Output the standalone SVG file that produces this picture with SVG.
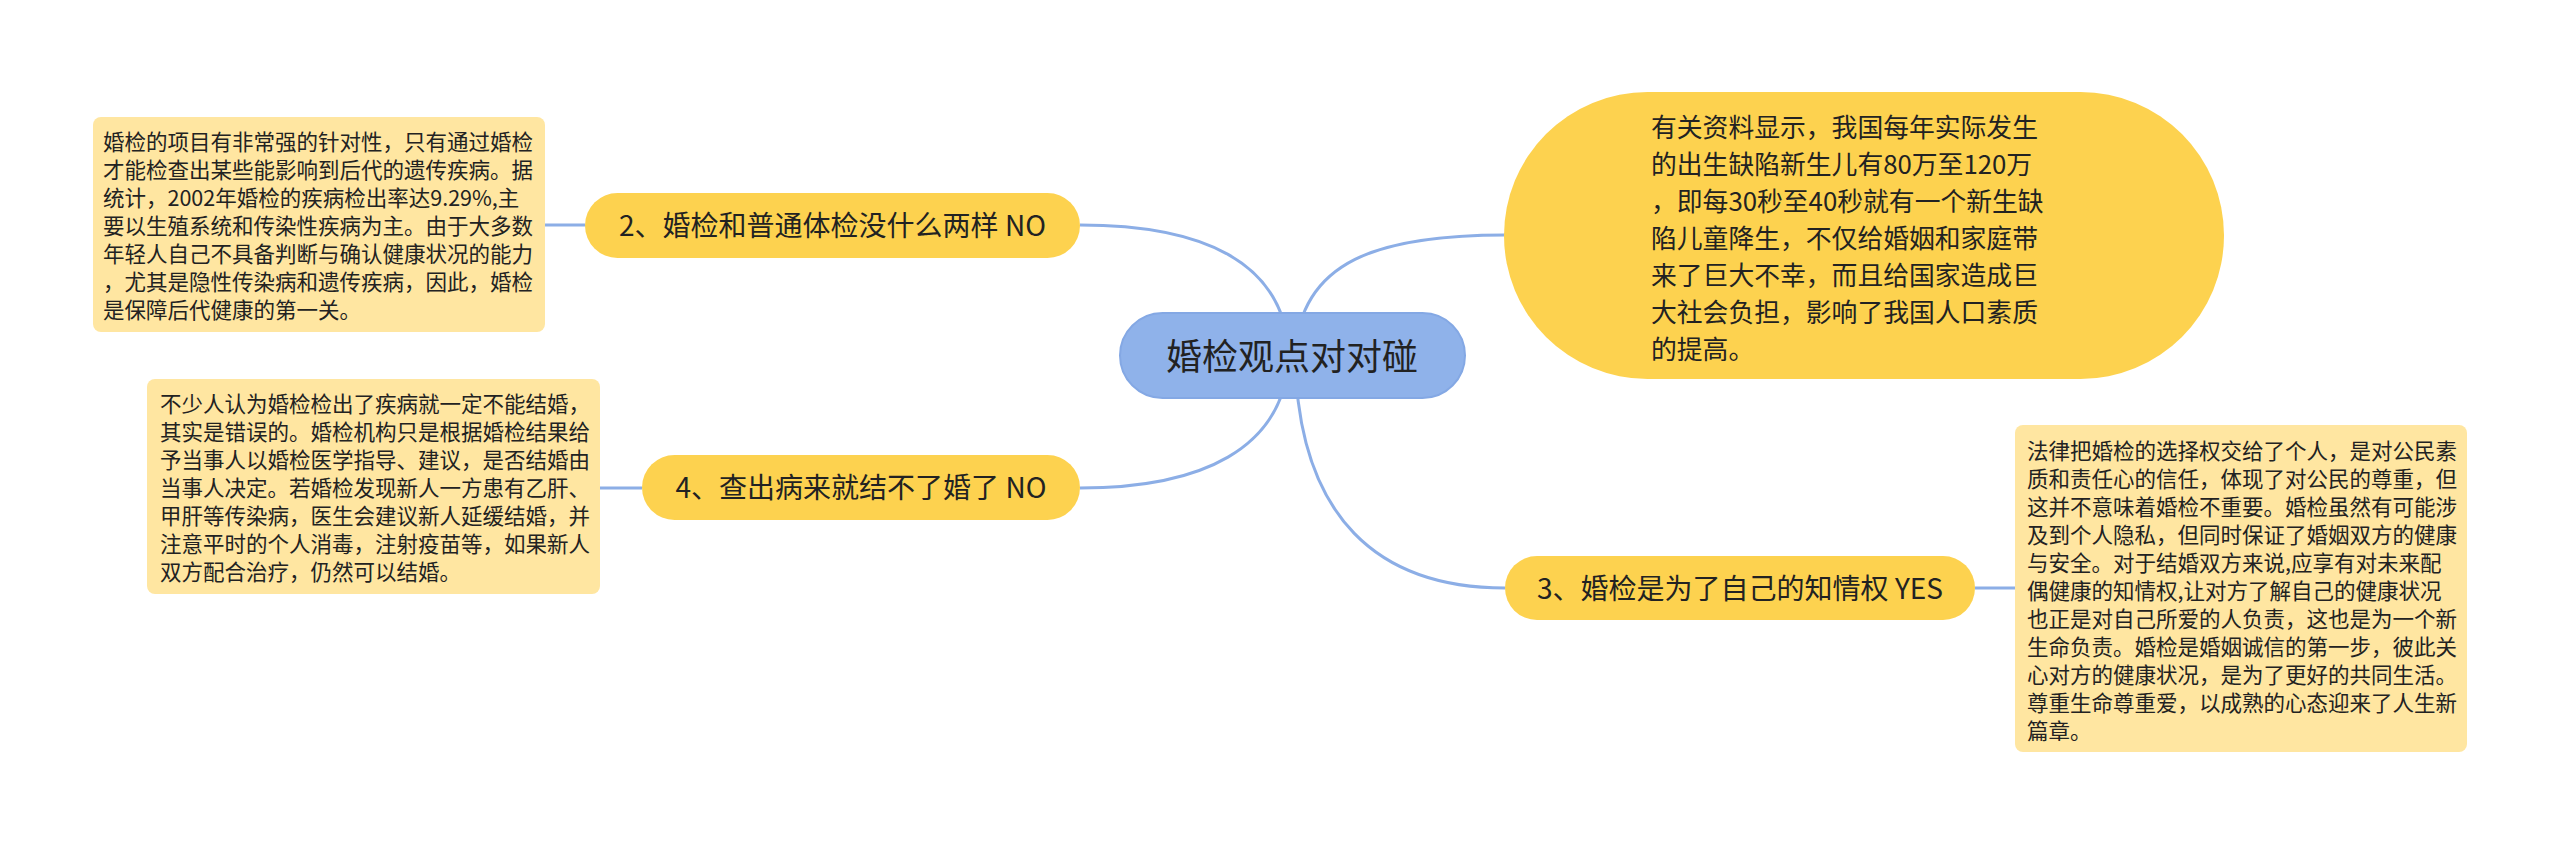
<svg xmlns="http://www.w3.org/2000/svg" width="2560" height="844" viewBox="0 0 2560 844">
<style>
.conn{fill:none;stroke:#8CAEE6;stroke-width:3}
.yel{fill:#FDD24F}
.det{fill:#FFE6A1}
.cjk{font-family:"Noto Sans CJK SC","Noto Sans",sans-serif;fill:#222}
.lbl{font-size:28px;text-anchor:middle}
.small{font-size:21.5px}
.big{font-size:25.8px}
</style>
<rect width="2560" height="844" fill="#ffffff"/>
<g id="connectors">
<path class="conn" d="M1295,355 C1300,260 1380,235 1505,235"/>
<path class="conn" d="M1295,355 C1298,520 1380,588 1505,588"/>
<path class="conn" d="M1289,355 C1285,260 1200,225 1080,225"/>
<path class="conn" d="M1289,355 C1285,450 1200,488 1080,488"/>
<path class="conn" d="M585,225 L545,225"/>
<path class="conn" d="M642,488 L600,488"/>
<path class="conn" d="M1975,588 L2015,588"/>
</g>
<g id="center">
<rect x="1120" y="313" width="345" height="85" rx="42.5" fill="#8FB2EA" stroke="#84A8E4" stroke-width="2"/>
<text class="cjk" x="1292" y="370" font-size="36" text-anchor="middle">婚检观点对对碰</text>
</g>
<g id="node1">
<rect class="yel" x="1504" y="92" width="720" height="287" rx="143.5"/>
<text class="cjk big" x="1651">
<tspan x="1651" y="137">有关资料显示，我国每年实际发生</tspan>
<tspan x="1651" y="174">的出生缺陷新生儿有80万至120万</tspan>
<tspan x="1651" y="211">，即每30秒至40秒就有一个新生缺</tspan>
<tspan x="1651" y="248">陷儿童降生，不仅给婚姻和家庭带</tspan>
<tspan x="1651" y="285">来了巨大不幸，而且给国家造成巨</tspan>
<tspan x="1651" y="322">大社会负担，影响了我国人口素质</tspan>
<tspan x="1651" y="359">的提高。</tspan>
</text>
</g>
<g id="node2">
<rect class="yel" x="585" y="193" width="495" height="65" rx="32.5"/>
<text class="cjk lbl" x="832.5" y="236">2、婚检和普通体检没什么两样 NO</text>
</g>
<g id="node2-detail">
<rect class="det" x="93" y="117" width="452" height="215" rx="8"/>
<text class="cjk small">
<tspan x="103" y="150">婚检的项目有非常强的针对性，只有通过婚检</tspan>
<tspan x="103" y="178">才能检查出某些能影响到后代的遗传疾病。据</tspan>
<tspan x="103" y="206">统计，2002年婚检的疾病检出率达9.29%,主</tspan>
<tspan x="103" y="234">要以生殖系统和传染性疾病为主。由于大多数</tspan>
<tspan x="103" y="262">年轻人自己不具备判断与确认健康状况的能力</tspan>
<tspan x="103" y="290">，尤其是隐性传染病和遗传疾病，因此，婚检</tspan>
<tspan x="103" y="318">是保障后代健康的第一关。</tspan>
</text>
</g>
<g id="node4">
<rect class="yel" x="642" y="455" width="438" height="65" rx="32.5"/>
<text class="cjk lbl" x="861" y="498">4、查出病来就结不了婚了 NO</text>
</g>
<g id="node4-detail">
<rect class="det" x="147" y="379" width="453" height="215" rx="8"/>
<text class="cjk small">
<tspan x="160" y="412">不少人认为婚检检出了疾病就一定不能结婚，</tspan>
<tspan x="160" y="440">其实是错误的。婚检机构只是根据婚检结果给</tspan>
<tspan x="160" y="468">予当事人以婚检医学指导、建议，是否结婚由</tspan>
<tspan x="160" y="496">当事人决定。若婚检发现新人一方患有乙肝、</tspan>
<tspan x="160" y="524">甲肝等传染病，医生会建议新人延缓结婚，并</tspan>
<tspan x="160" y="552">注意平时的个人消毒，注射疫苗等，如果新人</tspan>
<tspan x="160" y="580">双方配合治疗，仍然可以结婚。</tspan>
</text>
</g>
<g id="node3">
<rect class="yel" x="1505" y="556" width="470" height="64" rx="32"/>
<text class="cjk lbl" x="1740" y="599">3、婚检是为了自己的知情权 YES</text>
</g>
<g id="node3-detail">
<rect class="det" x="2015" y="425" width="452" height="327" rx="8"/>
<text class="cjk small">
<tspan x="2027" y="459">法律把婚检的选择权交给了个人，是对公民素</tspan>
<tspan x="2027" y="487">质和责任心的信任，体现了对公民的尊重，但</tspan>
<tspan x="2027" y="515">这并不意味着婚检不重要。婚检虽然有可能涉</tspan>
<tspan x="2027" y="543">及到个人隐私，但同时保证了婚姻双方的健康</tspan>
<tspan x="2027" y="571">与安全。对于结婚双方来说,应享有对未来配</tspan>
<tspan x="2027" y="599">偶健康的知情权,让对方了解自己的健康状况</tspan>
<tspan x="2027" y="627">也正是对自己所爱的人负责，这也是为一个新</tspan>
<tspan x="2027" y="655">生命负责。婚检是婚姻诚信的第一步，彼此关</tspan>
<tspan x="2027" y="683">心对方的健康状况，是为了更好的共同生活。</tspan>
<tspan x="2027" y="711">尊重生命尊重爱，以成熟的心态迎来了人生新</tspan>
<tspan x="2027" y="739">篇章。</tspan>
</text>
</g>
</svg>
